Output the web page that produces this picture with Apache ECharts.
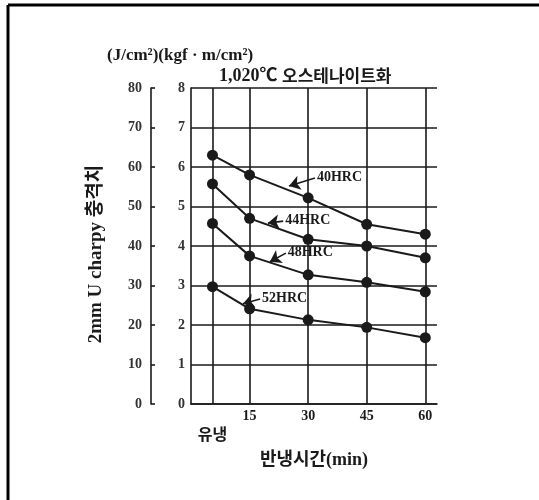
<!DOCTYPE html>
<html><head><meta charset="utf-8">
<script src="https://cdn.jsdelivr.net/npm/echarts@6/dist/echarts.min.js"></script>
<style>html,body{margin:0;padding:0;background:#fff}#c{width:539px;height:500px}</style>
</head><body><div id="c"></div>
<script>
// x positions: 유냉 (as-quenched) then tempering minutes
const xCats = ['유냉', '15', '30', '45', '60'];
const xPos = [5.5, 15, 30, 45, 60];
// Charpy impact values in kgf·m/cm² (×10 = J/cm²)
const hrc40 = [6.3, 5.8, 5.22, 4.55, 4.3];
const hrc44 = [5.57, 4.7, 4.17, 4.0, 3.7];
const hrc48 = [4.57, 3.75, 3.27, 3.08, 2.84];
const hrc52 = [2.97, 2.41, 2.13, 1.94, 1.68];
const seriesNames = ['40HRC', '44HRC', '48HRC', '52HRC'];
// label arrows: [startX, startY, endX, endY]
const arrows = [
  [31.75, 5.72, 25.1, 5.52],
  [23.6, 4.63, 19.7, 4.58],
  [24.3, 3.82, 20.2, 3.60],
  [17.7, 2.66, 13.3, 2.54]
];
const kgfTicks = [0,1,2,3,4,5,6,7,8];
const jTicks = [0,10,20,30,40,50,60,70,80];

const serif = "'Liberation Serif','Noto Sans CJK KR',serif";
const ink = '#1a1a1a';
const allData = [hrc40, hrc44, hrc48, hrc52];

const chart = echarts.init(document.getElementById('c'), null, {renderer:'canvas'});
const series = allData.map((vals, i) => ({
  name: seriesNames[i],
  type: 'line',
  yAxisIndex: 0,
  data: vals.map((v, j) => [xPos[j], v]),
  symbol: 'circle',
  symbolSize: 11,
  z: 5,
  itemStyle: {color: ink},
  lineStyle: {color: ink, width: 2},
  markLine: {
    silent: true,
    symbol: ['none', 'arrow'],
    symbolSize: 11,
    itemStyle: {color: ink},
    lineStyle: {color: ink, width: 1.6, type: 'solid'},
    label: {show: true, position: 'start', formatter: seriesNames[i], fontFamily: serif, fontWeight: 'bold', fontSize: 14, color: ink, distance: 2},
    data: [[{coord: [arrows[i][0], arrows[i][1]]}, {coord: [arrows[i][2], arrows[i][3]]}]]
  }
}));
series.push({
  type: 'line', data: [], z: 1, silent: true,
  markLine: {
    silent: true, symbol: ['none','none'],
    label: {show: false},
    lineStyle: {color: ink, width: 1.6, type: 'solid'},
    data: xPos.map(x => ({xAxis: x}))
  }
});

chart.setOption({
  animation: false,
  backgroundColor: '#fff',
  title: [
    {text: '(J/cm²)(kgf · m/cm²)', left: 102, top: 42, textStyle: {fontFamily: serif, fontWeight: 'bold', fontSize: 17, color: ink}},
    {text: '{a|1,020℃ }{b|오스테나이트화}', left: 214, top: 62, textStyle: {rich: {
      a: {fontFamily: serif, fontWeight: 'bold', fontSize: 18, color: ink},
      b: {fontFamily: "'Noto Sans CJK KR',sans-serif", fontWeight: 'bold', fontSize: 17, color: ink}}}}
  ],
  grid: {left: 191, top: 88, width: 246, height: 316, containLabel: false},
  xAxis: {
    type: 'value', min: 0, max: 63,
    name: '반냉시간(min)', nameLocation: 'middle', nameGap: 47,
    nameTextStyle: {fontFamily: serif, fontWeight: 'bold', fontSize: 18, color: ink},
    axisLine: {show: true, lineStyle: {color: ink, width: 1.6}},
    axisTick: {show: false},
    splitLine: {show: false},
    axisLabel: {
      customValues: xPos,
      margin: 5,
      fontFamily: serif, fontWeight: 'bold', fontSize: 14, color: ink,
      formatter: (v) => { const k = xPos.indexOf(v); return k === 0 ? '{k|' + xCats[0] + '}' : xCats[k]; },
      rich: {k: {fontFamily: "'Noto Sans CJK KR',sans-serif", fontWeight: 'bold', fontSize: 16, color: ink, padding: [17, 0, 0, 0]}}
    }
  },
  yAxis: [
    {
      type: 'value', min: 0, max: 8, interval: 1, position: 'left',
      axisLine: {show: true, lineStyle: {color: ink, width: 1.6}},
      axisTick: {show: false},
      splitLine: {show: true, lineStyle: {color: ink, width: 1.6}},
      axisLabel: {margin: 6, fontFamily: serif, fontWeight: 'bold', fontSize: 14, color: '#333',
        formatter: v => String(kgfTicks[kgfTicks.indexOf(v)])}
    },
    {
      type: 'value', min: 0, max: 80, interval: 10, position: 'left', offset: 40,
      name: '2mm U charpy 충격치', nameLocation: 'middle', nameGap: 45,
      nameTextStyle: {fontFamily: serif, fontWeight: 'bold', fontSize: 19, color: ink, padding: [0, 16, 0, 0]},
      axisLine: {show: true, lineStyle: {color: ink, width: 1.6}},
      axisTick: {show: true, inside: true, length: 4, lineStyle: {color: ink, width: 1.6}},
      splitLine: {show: false},
      axisLabel: {margin: 9, fontFamily: serif, fontWeight: 'bold', fontSize: 14, color: '#333',
        formatter: v => String(jTicks[jTicks.indexOf(v)])}
    }
  ],
  graphic: [
    {type: 'line', shape: {x1: 8, y1: 5, x2: 539, y2: 5}, style: {stroke: '#000', lineWidth: 3}},
    {type: 'line', shape: {x1: 8, y1: 5, x2: 8, y2: 500}, style: {stroke: '#000', lineWidth: 3}}
  ],
  series: series
});
</script></body></html>
